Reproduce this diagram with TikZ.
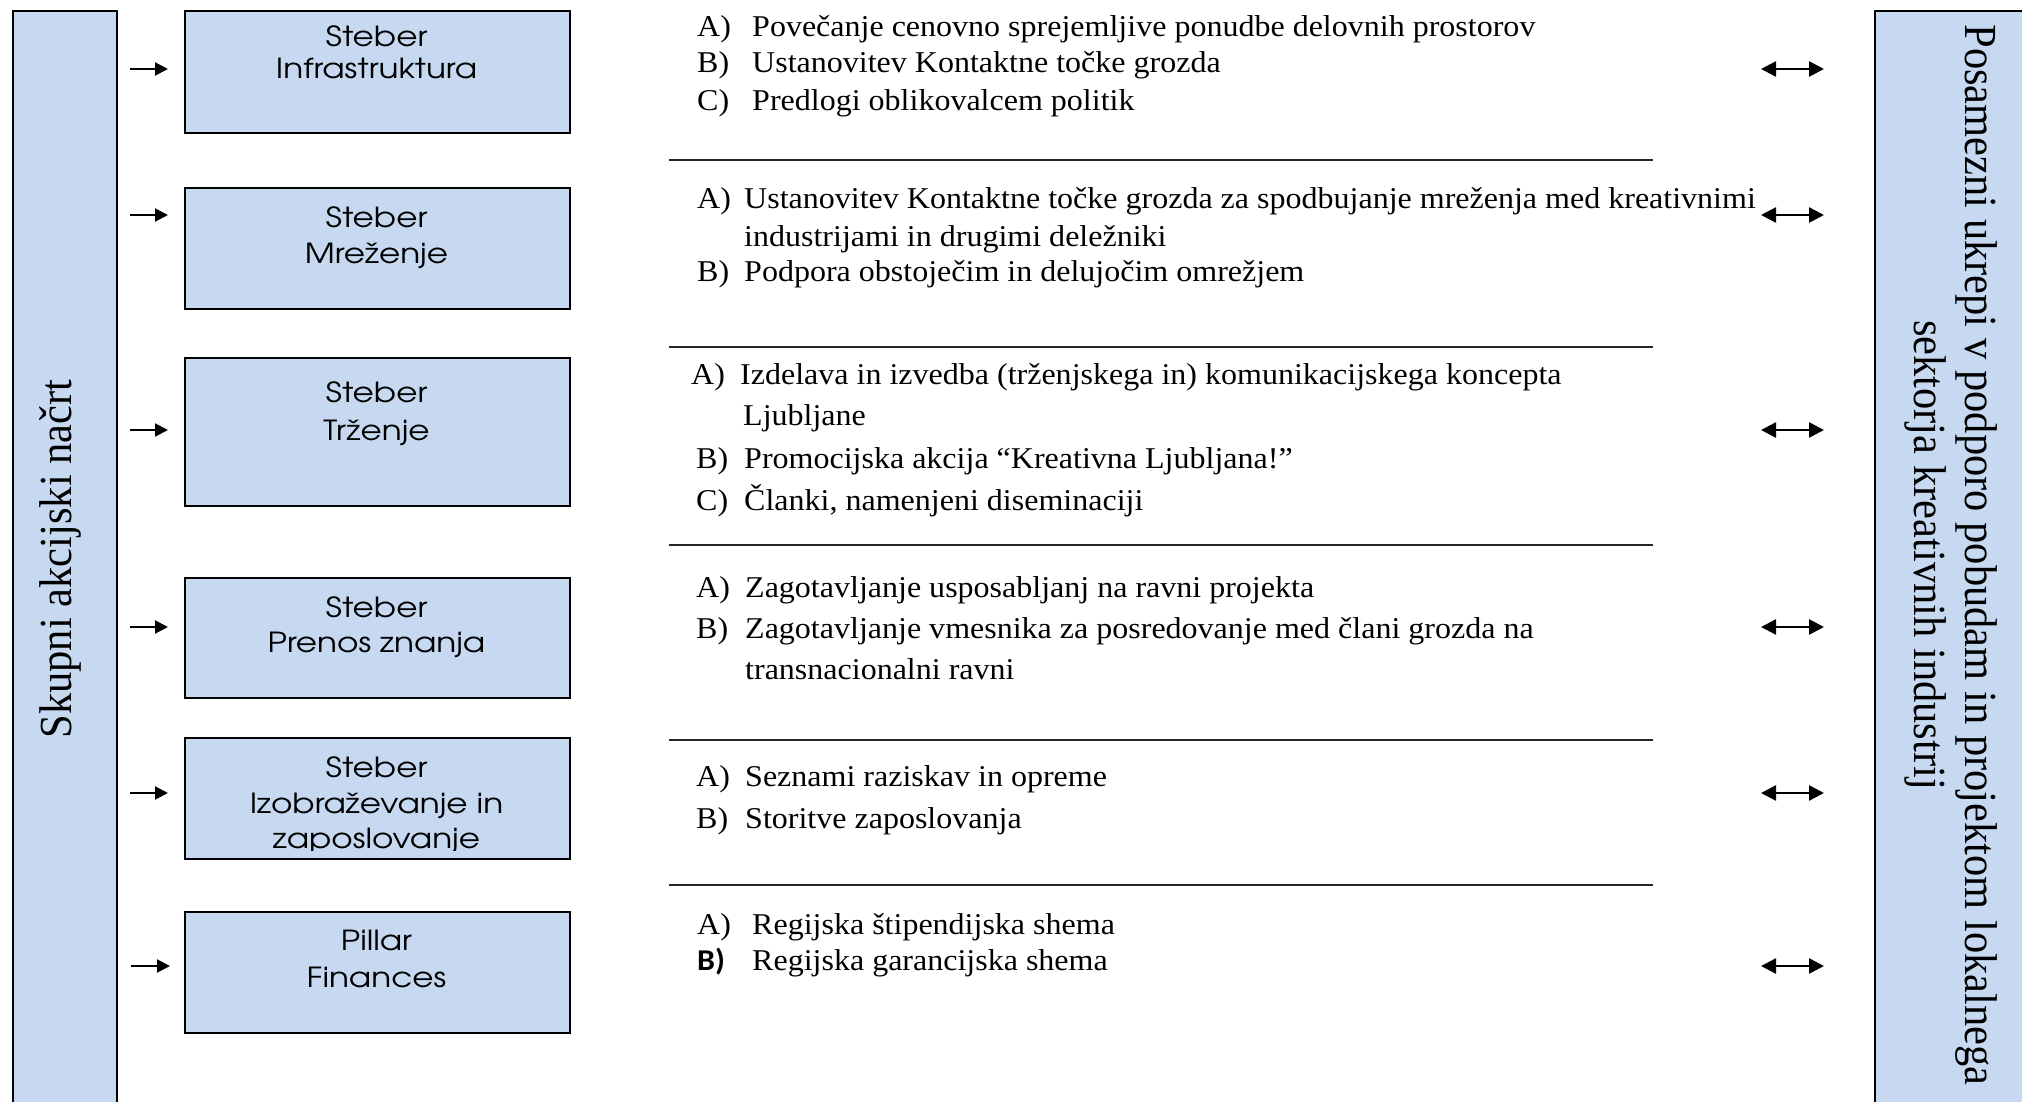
\documentclass[tikz,border=0pt]{standalone}
\usepackage{fontspec}
\usepackage{graphicx}
\setmainfont{Liberation Serif}
\newfontfamily\tnr[FakeStretch=1.06]{Liberation Serif}
\newfontfamily\cgf[FakeStretch=1.18]{TeX Gyre Adventor}
\newfontfamily\calb[FakeStretch=1.06]{Carlito}
\usetikzlibrary{arrows.meta,calc}
\definecolor{boxblue}{HTML}{C6D9F1}
\tikzset{
  pillar/.style={draw=black, line width=2pt, fill=boxblue, minimum width=385pt, minimum height=#1, inner sep=0pt, anchor=north west},
  side/.style={draw=black, line width=2pt, fill=boxblue, anchor=north west, inner sep=0pt},
  ptext/.style={font=\cgf\fontsize{27.7}{34}\selectfont, anchor=base, inner sep=0pt},
  item/.style={font=\tnr\fontsize{30.2}{34}\selectfont, anchor=base west, inner sep=0pt},
  sidetext/.style={font=\fontsize{42.5}{50}\selectfont, anchor=base, inner sep=0pt},
  sepline/.style={line width=2pt, draw=black!85},
  sarrow/.style={line width=2pt, -{Triangle[length=13pt,width=13pt]}},
  darrow/.style={line width=2.5pt, {Triangle[length=15pt,width=15pt]}-{Triangle[length=15pt,width=15pt]}},
}
\begin{document}
\begin{tikzpicture}[x=1pt,y=-1pt]
\useasboundingbox (0,0) rectangle (2022,1102);
\fill[white] (0,0) rectangle (2022,1102);

% side boxes
\node[side, minimum width=104pt, minimum height=1130pt] (L) at (12,10) {};
\node[side, minimum width=200pt, minimum height=1130pt] (R) at (1874,10) {};
\node[sidetext, rotate=90] (Ltext) at (71,559) {\scalebox{1}[1.08]{Skupni akcijski načrt}};
\node[sidetext, rotate=-90] (Rtext1) at (1965,555) {\scalebox{1}[1.08]{Posamezni ukrepi v podporo pobudam in projektom lokalnega}};
\node[sidetext, rotate=-90] (Rtext2) at (1914,555) {\scalebox{1}[1.08]{sektorja kreativnih industrij}};

% pillar boxes
\node[pillar=122pt] (p1) at (184,10) {};
\node[pillar=121pt] (p2) at (184,187) {};
\node[pillar=148pt] (p3) at (184,357) {};
\node[pillar=120pt] (p4) at (184,577) {};
\node[pillar=121pt] (p5) at (184,737) {};
\node[pillar=121pt] (p6) at (184,911) {};

\node[ptext] (p1a) at (376.5,47) {Steber};
\node[ptext] (p1b) at (376.5,79) {Infrastruktura};
\node[ptext] (p2a) at (376.5,228) {Steber};
\node[ptext] (p2b) at (376.5,263) {Mreženje};
\node[ptext] (p3a) at (376.5,402) {Steber};
\node[ptext] (p3b) at (376.5,440) {Trženje};
\node[ptext] (p4a) at (376.5,617) {Steber};
\node[ptext] (p4b) at (376.5,652) {Prenos znanja};
\node[ptext] (p5a) at (376.5,777) {Steber};
\node[ptext] (p5b) at (376.5,813) {Izobraževanje in};
\begin{scope}
  \clip (p5.north west) rectangle ([yshift=10pt]p5.south east);
  \node[ptext] (p5c) at (376.5,848) {zaposlovanje};
\end{scope}
\node[ptext] (p6a) at (376.5,950) {Pillar};
\node[ptext] (p6b) at (376.5,987) {Finances};

% single arrows
\foreach \n/\yy/\xa/\xb in {1/69/130/168, 2/215/130/168, 3/430/130/168, 4/627/130/168, 5/793/130/168, 6/966/131/170} {
  \coordinate (s\n a) at (\xa,\yy);
  \coordinate (s\n b) at (\xb,\yy);
  \draw[sarrow] (s\n a) -- (s\n b);
}
% double arrows
\foreach \n/\yy in {1/69, 2/215, 3/430, 4/627, 5/793, 6/966} {
  \coordinate (d\n a) at (1761,\yy);
  \coordinate (d\n b) at (1824,\yy);
  \draw[darrow] (d\n a) -- (d\n b);
}
% separators
\foreach \n/\yy in {1/160, 2/347, 3/545, 4/740, 5/885} {
  \coordinate (h\n a) at (669,\yy);
  \coordinate (h\n b) at (1653,\yy);
  \draw[sepline] (h\n a) -- (h\n b);
}

% block 1
\node[item] (b1al) at (697,37) {A)};
\node[item] (b1at) at (752,37) {Povečanje cenovno sprejemljive ponudbe delovnih prostorov};
\node[item] (b1bl) at (697,73) {B)};
\node[item] (b1bt) at (752,73) {Ustanovitev Kontaktne točke grozda};
\node[item] (b1cl) at (697,111) {C)};
\node[item] (b1ct) at (752,111) {Predlogi oblikovalcem politik};
% block 2
\node[item] (b2al) at (697,209) {A)};
\node[item] (b2at) at (744,209) {Ustanovitev Kontaktne točke grozda za spodbujanje mreženja med kreativnimi};
\node[item] (b2at2) at (744,247) {industrijami in drugimi deležniki};
\node[item] (b2bl) at (697,282) {B)};
\node[item] (b2bt) at (744,282) {Podpora obstoječim in delujočim omrežjem};
% block 3
\node[item] (b3al) at (691,384) {A)};
\node[item] (b3at) at (740,384) {Izdelava in izvedba (trženjskega in) komunikacijskega koncepta};
\node[item] (b3at2) at (743,425) {Ljubljane};
\node[item] (b3bl) at (696,468) {B)};
\node[item] (b3bt) at (744,468) {Promocijska akcija “Kreativna Ljubljana!”};
\node[item] (b3cl) at (696,510) {C)};
\node[item] (b3ct) at (744,510) {Članki, namenjeni diseminaciji};
% block 4
\node[item] (b4al) at (696,597) {A)};
\node[item] (b4at) at (745,597) {Zagotavljanje usposabljanj na ravni projekta};
\node[item] (b4bl) at (696,638) {B)};
\node[item] (b4bt) at (745,638) {Zagotavljanje vmesnika za posredovanje med člani grozda na};
\node[item] (b4bt2) at (745,679) {transnacionalni ravni};
% block 5
\node[item] (b5al) at (696,786) {A)};
\node[item] (b5at) at (745,786) {Seznami raziskav in opreme};
\node[item] (b5bl) at (696,828) {B)};
\node[item] (b5bt) at (745,828) {Storitve zaposlovanja};
% block 6
\node[item] (b6al) at (697,934) {A)};
\node[item] (b6at) at (752,934) {Regijska štipendijska shema};
\node[item, font=\calb\bfseries\fontsize{30.2}{34}\selectfont] (b6bl) at (697,970) {B)};
\node[item] (b6bt) at (752,970) {Regijska garancijska shema};
\end{tikzpicture}
\end{document}
